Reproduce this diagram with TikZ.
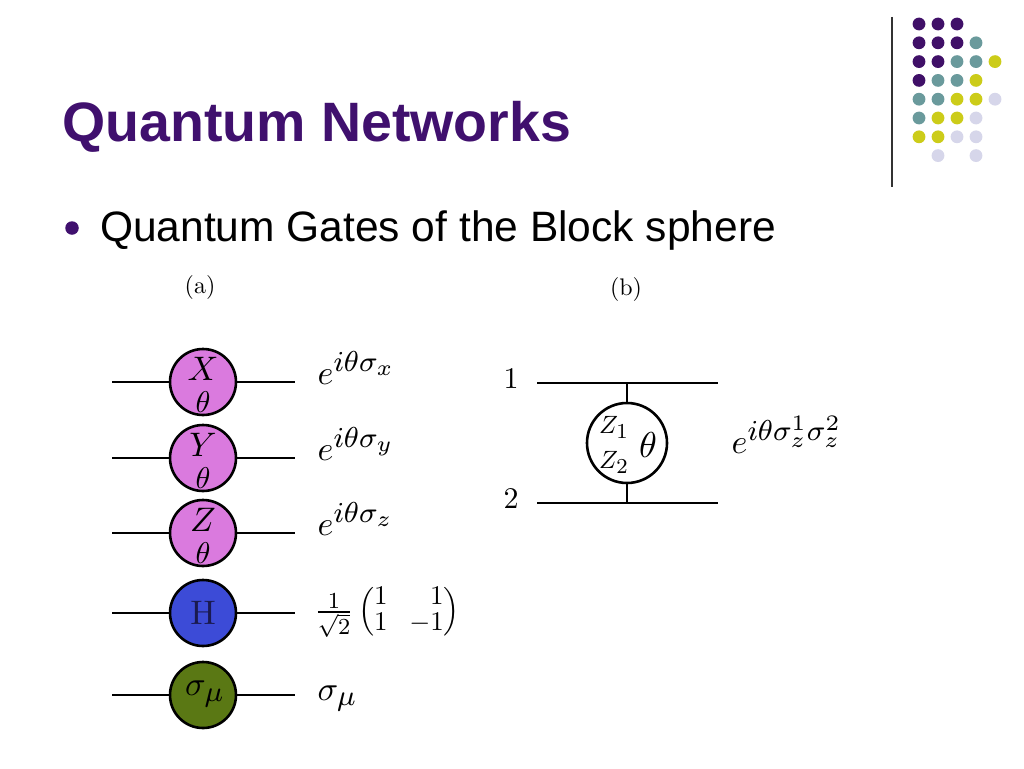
\RequirePackage{fix-cm}
\documentclass[tikz,border=0pt]{standalone}
\usepackage{amsmath}
\usepackage{fontspec}
\newfontfamily\sansfam{Liberation Sans}
\DeclareMathSizes{10}{10}{8.5}{6.5}
\definecolor{titlepurple}{RGB}{64,16,110}
\definecolor{dotP}{RGB}{64,16,104}
\definecolor{dotT}{RGB}{106,154,156}
\definecolor{dotY}{RGB}{204,204,25}
\definecolor{dotL}{RGB}{214,214,234}
\definecolor{gpink}{RGB}{218,122,222}
\definecolor{gblue}{RGB}{60,75,215}
\definecolor{ggreen}{RGB}{90,120,20}
\definecolor{hnavy}{RGB}{26,26,80}
\begin{document}
\begin{tikzpicture}[x=1pt,y=-1pt]
\tikzset{
  wire/.style={line width=2.6pt,black},
  gate/.style={circle,draw=black,line width=2.6pt,minimum size=66pt,inner sep=0pt},
  bigcirc/.style={circle,draw=black,line width=2.6pt,minimum size=80pt,inner sep=0pt},
  eq/.style={inner sep=0pt,scale=3.4},
  sym/.style={inner sep=0pt,scale=3.4},
  thsym/.style={inner sep=0pt,scale=3.0},
  small/.style={inner sep=0pt,scale=2.4},
  dotc/.style={circle,inner sep=0pt,minimum size=12.8pt}
}
\useasboundingbox (0,0) rectangle (1024,768);
\fill[white] (0,0) rectangle (1024,768);

% decoration: vertical rule and dots
\coordinate (vt) at (892,17);
\coordinate (vb) at (892,187);
\draw[line width=1.4pt,black!80] (vt) -- (vb);
\foreach \r/\cols in {0/{P,P,P},1/{P,P,P,T},2/{P,P,T,T,Y},3/{P,T,T,Y},4/{T,T,Y,Y,L},5/{T,Y,Y,L},6/{Y,Y,L,L}}{
  \foreach \c [count=\i from 0] in \cols {
    \node[dotc,fill=dot\c] (d\r-\i) at (919+19*\i,24+18.8*\r) {};
  }
}
\node[dotc,fill=dotL] (d7-1) at (938,155.6) {};
\node[dotc,fill=dotL] (d7-3) at (976,155.6) {};

% title and bullet
\node[anchor=base west,inner sep=0pt,text=titlepurple] (title) at (62,141)
  {\sansfam\fontsize{55.5}{60}\selectfont\bfseries Quantum Networks};
\node[circle,fill=titlepurple,inner sep=0pt,minimum size=13.5pt] (bul) at (72,228) {};
\node[anchor=base west,inner sep=0pt] (btext) at (100,241)
  {\sansfam\fontsize{42.5}{50}\selectfont Quantum Gates of the Block sphere};

% panel labels
\node[small] (pa) at (200,287) {(a)};
\node[small] (pb) at (626,289) {(b)};

% gates (a)
\foreach \n/\y/\col in {x/382/gpink,y/458/gpink,z/533/gpink,h/613/gblue,s/695/ggreen}{
  \coordinate (\n l) at (112,\y);
  \coordinate (\n r) at (295,\y);
  \node[gate,fill=\col] (g\n) at (203,\y) {};
  \draw[wire] (\n l) -- (g\n.west) (g\n.east) -- (\n r);
}
\node[sym] (tx) at (203,369) {$X$};
\node[thsym] (thx) at (203,402) {$\theta$};
\node[sym] (ty) at (203,445) {$Y$};
\node[thsym] (thy) at (203,478) {$\theta$};
\node[sym] (tz) at (203,520) {$Z$};
\node[thsym] (thz) at (203,553) {$\theta$};
\node[sym,text=hnavy] (th) at (203,613) {H};
\node[inner sep=0pt,scale=3.4] (ts) at (205,694) {$\sigma_\mu$};

% formulas (a)
\node[eq,anchor=base west] (fx) at (317,384) {$e^{i\theta\sigma_x}$};
\node[eq,anchor=base west] (fy) at (317,460) {$e^{i\theta\sigma_y}$};
\node[eq,anchor=base west] (fz) at (317,535) {$e^{i\theta\sigma_z}$};
\node[inner sep=0pt,scale=2.7,anchor=west] (fh) at (314,612)
  {$\setlength\arraycolsep{4pt}\renewcommand{\arraystretch}{0.8}\frac{1}{\sqrt{2}}\begin{pmatrix}1&\hphantom{-}1\\1&-1\end{pmatrix}$};
\node[eq,anchor=base west] (fs) at (317,700) {$\sigma_\mu$};

% panel (b)
\coordinate (l1a) at (537,383);
\coordinate (l1b) at (718,383);
\coordinate (l2a) at (537,503);
\coordinate (l2b) at (718,503);
\coordinate (t1) at (627,383);
\coordinate (t2) at (627,503);
\draw[wire] (l1a) -- (l1b);
\draw[wire] (l2a) -- (l2b);
\node[bigcirc,fill=white] (cz) at (627,443) {};
\draw[wire] (t1) -- (cz.north);
\draw[wire] (cz.south) -- (t2);
\node[inner sep=0pt,scale=3.0] (n1) at (511,379) {1};
\node[inner sep=0pt,scale=3.0] (n2) at (511,499) {2};
\node[inner sep=0pt,scale=2.5] (z1) at (614,427) {$Z_1$};
\node[inner sep=0pt,scale=2.5] (z2) at (614,462) {$Z_2$};
\node[inner sep=0pt,scale=3.6] (thb) at (648,445) {$\theta$};
\node[eq,anchor=base west] (fb) at (731,453) {$e^{i\theta\sigma_z^1\sigma_z^2}$};
\end{tikzpicture}
\end{document}
